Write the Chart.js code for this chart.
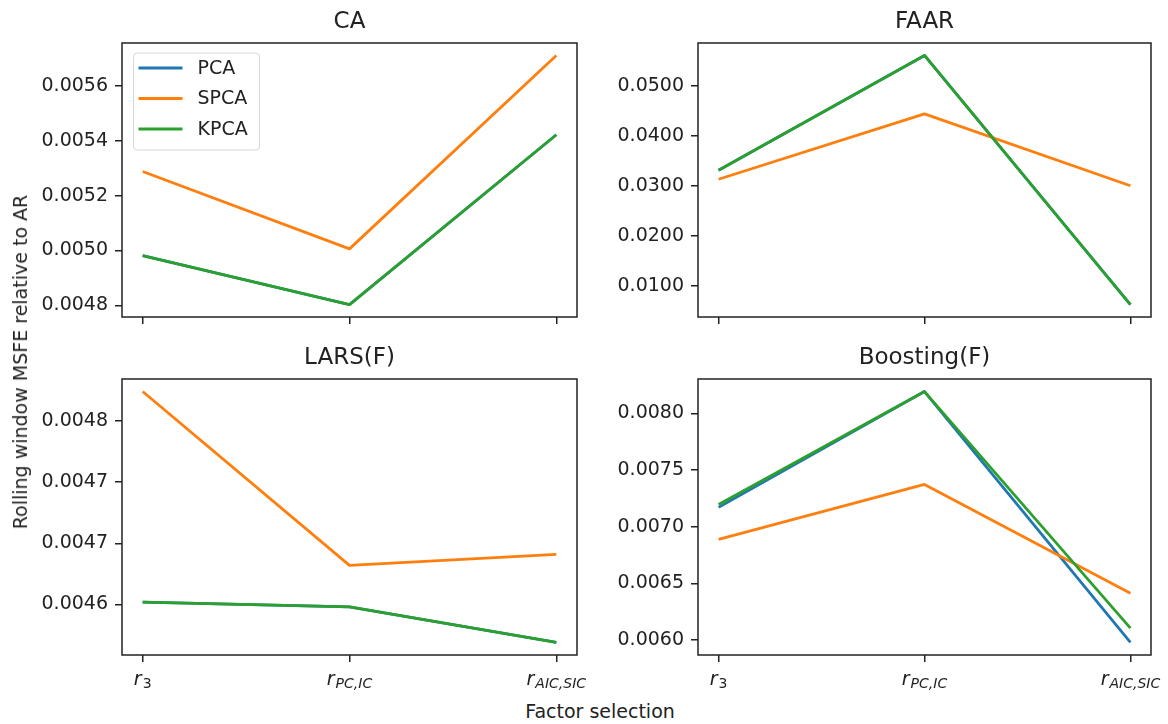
<!DOCTYPE html>
<html>
<head>
<meta charset="utf-8">
<script src="https://cdn.jsdelivr.net/npm/chart.js@4.4.1/dist/chart.umd.min.js"></script>
<style>
  html, body { margin: 0; padding: 0; background: #fff; }
  #fig { position: relative; width: 1168px; height: 724px; overflow: hidden;
         font-family: "DejaVu Sans", sans-serif; color: #222; }
  .panel { position: absolute; }
  .ylab { position: absolute; left: 20px; top: 362px; font-size: 19px; white-space: nowrap;
          transform: translate(-50%, -50%) rotate(-90deg); }
  .xlab { position: absolute; left: 600px; top: 711px; font-size: 19px; white-space: nowrap;
          transform: translate(-50%, -50%); }
</style>
</head>
<body>
<div id="fig">
  <canvas class="panel" id="c0" width="592" height="362" style="left:0;top:0"></canvas>
  <canvas class="panel" id="c1" width="590" height="362" style="left:576px;top:0"></canvas>
  <canvas class="panel" id="c2" width="592" height="364" style="left:0;top:336px"></canvas>
  <canvas class="panel" id="c3" width="590" height="364" style="left:576px;top:336px"></canvas>
  <div class="ylab">Rolling window MSFE relative to AR</div>
  <div class="xlab">Factor selection</div>
</div>
<script>
// categories (mathtext-like: r with subscript)
const categories = ["r_3", "r_{PC,IC}", "r_{AIC,SIC}"];
const seriesNames = ["PCA", "SPCA", "KPCA"];
const seriesColors = ["#1f77b4", "#ff7f0e", "#2ca02c"];

// CA
const caPCA  = [0.004981, 0.004803, 0.005422];
const caSPCA = [0.005288, 0.005006, 0.005711];
const caKPCA = [0.004981, 0.004803, 0.005422];
const caTicks = [0.0048, 0.0050, 0.0052, 0.0054, 0.0056];
const caTickLabels = ["0.0048", "0.0050", "0.0052", "0.0054", "0.0056"];

// FAAR
const faarPCA  = [0.0331, 0.0561, 0.0062];
const faarSPCA = [0.0313, 0.0444, 0.0300];
const faarKPCA = [0.0331, 0.0561, 0.0062];
const faarTicks = [0.01, 0.02, 0.03, 0.04, 0.05];
const faarTickLabels = ["0.0100", "0.0200", "0.0300", "0.0400", "0.0500"];

// LARS(F)
const larsPCA  = [0.004652, 0.004648, 0.004619];
const larsSPCA = [0.004824, 0.004682, 0.004691];
const larsKPCA = [0.004652, 0.004648, 0.004619];
const larsTicks = [0.00465, 0.00470, 0.00475, 0.00480];
const larsTickLabels = ["0.0046", "0.0047", "0.0047", "0.0048"];

// Boosting(F)
const boostPCA  = [0.007172, 0.008194, 0.005980];
const boostSPCA = [0.006890, 0.007374, 0.006414];
const boostKPCA = [0.007198, 0.008194, 0.006106];
const boostTicks = [0.0060, 0.0065, 0.0070, 0.0075, 0.0080];
const boostTickLabels = ["0.0060", "0.0065", "0.0070", "0.0075", "0.0080"];

const panels = [
  { id: "c0", title: "CA", series: [caPCA, caSPCA, caKPCA], ticks: caTicks, labels: caTickLabels, legend: true, xLabels: false },
  { id: "c1", title: "FAAR", series: [faarPCA, faarSPCA, faarKPCA], ticks: faarTicks, labels: faarTickLabels, legend: false, xLabels: false },
  { id: "c2", title: "LARS(F)", series: [larsPCA, larsSPCA, larsKPCA], ticks: larsTicks, labels: larsTickLabels, legend: false, xLabels: true },
  { id: "c3", title: "Boosting(F)", series: [boostPCA, boostSPCA, boostKPCA], ticks: boostTicks, labels: boostTickLabels, legend: false, xLabels: true },
];

Chart.defaults.font.family = '"DejaVu Sans", sans-serif';
Chart.defaults.font.size = 19;
Chart.defaults.color = "#222";

const INK = "#222";

// frame, title, legend and math-style x labels
const decor = {
  id: "decor",
  afterDatasetsDraw(chart, args, opts) {
    const ctx = chart.ctx;
    const a = chart.chartArea;
    ctx.save();
    ctx.strokeStyle = INK;
    ctx.lineWidth = 1.5;
    ctx.strokeRect(a.left, a.top, a.right - a.left, a.bottom - a.top);

    ctx.fillStyle = INK;
    ctx.font = '23px "DejaVu Sans"';
    ctx.textAlign = "center";
    ctx.textBaseline = "middle";
    ctx.fillText(opts.title, (a.left + a.right) / 2, a.top - 21);

    if (opts.xLabels) {
      ctx.textAlign = "left";
      ctx.textBaseline = "alphabetic";
      const xs = chart.scales.x;
      categories.forEach((c, i) => {
        const main = c.split("_")[0];
        const sub = c.split("_")[1].replace(/[{}]/g, "");
        ctx.font = 'italic 19px "DejaVu Sans"';
        const wMain = ctx.measureText(main).width;
        ctx.font = 'italic 14px "DejaVu Sans"';
        const wSub = ctx.measureText(sub).width;
        const x0 = xs.getPixelForValue(i) - (wMain + wSub + 1) / 2;
        ctx.font = 'italic 19px "DejaVu Sans"';
        ctx.fillText(main, x0, a.bottom + 30);
        ctx.font = (/^\d+$/.test(sub) ? "" : "italic ") + '14px "DejaVu Sans"';
        ctx.fillText(sub, x0 + wMain + 1, a.bottom + 33);
      });
    }

    if (opts.legend) {
      const bx = a.left + 11.5, by = a.top + 10, bw = 126, bh = 97;
      ctx.beginPath();
      ctx.roundRect(bx, by, bw, bh, 4);
      ctx.fillStyle = "rgba(255,255,255,0.8)";
      ctx.fill();
      ctx.strokeStyle = "#d6d6d6";
      ctx.lineWidth = 1;
      ctx.stroke();
      ctx.font = '19px "DejaVu Sans"';
      ctx.textAlign = "left";
      ctx.textBaseline = "middle";
      seriesNames.forEach((name, i) => {
        const y = by + 15 + i * 30.5;
        ctx.beginPath();
        ctx.moveTo(bx + 5, y);
        ctx.lineTo(bx + 49, y);
        ctx.strokeStyle = seriesColors[i];
        ctx.lineWidth = 2.8;
        ctx.stroke();
        ctx.fillStyle = INK;
        ctx.fillText(name, bx + 64, y + 1);
      });
    }
    ctx.restore();
  }
};

panels.forEach(p => {
  const all = p.series.flat();
  const lo = Math.min(...all), hi = Math.max(...all);
  const m = (hi - lo) * 0.05;

  new Chart(document.getElementById(p.id), {
    type: "line",
    data: {
      datasets: p.series.map((vals, s) => ({
        label: seriesNames[s],
        data: vals.map((v, i) => ({ x: i, y: v })),
        borderColor: seriesColors[s],
        backgroundColor: seriesColors[s],
        borderWidth: 2.8,
        pointRadius: 0,
        tension: 0,
        fill: false,
        borderJoinStyle: "round",
        order: 2 - s,
      })),
    },
    options: {
      responsive: false,
      animation: false,
      layout: { padding: { left: 0, right: 15, top: 43, bottom: 0 } },
      plugins: {
        legend: { display: false },
        tooltip: { enabled: false },
        decor: { title: p.title, legend: p.legend, xLabels: p.xLabels },
      },
      scales: {
        x: {
          type: "linear",
          min: -0.1,
          max: 2.1,
          afterBuildTicks: (scale) => { scale.ticks = categories.map((c, i) => ({ value: i })); },
          afterFit: (scale) => { scale.height = 45; },
          ticks: { display: false },
          border: { display: false },
          grid: { drawOnChartArea: false, drawTicks: true, tickLength: 7, color: INK, lineWidth: 1.5 },
        },
        y: {
          type: "linear",
          min: lo - m,
          max: hi + m,
          afterBuildTicks: (scale) => { scale.ticks = p.ticks.map(v => ({ value: v })); },
          afterFit: (scale) => { scale.width = 122; },
          ticks: { padding: 7, color: INK, callback: (v, i) => p.labels[i] },
          border: { display: false },
          grid: { drawOnChartArea: false, drawTicks: true, tickLength: 7, color: INK, lineWidth: 1.5 },
        },
      },
    },
    plugins: [decor],
  });
});
</script>
</body>
</html>
